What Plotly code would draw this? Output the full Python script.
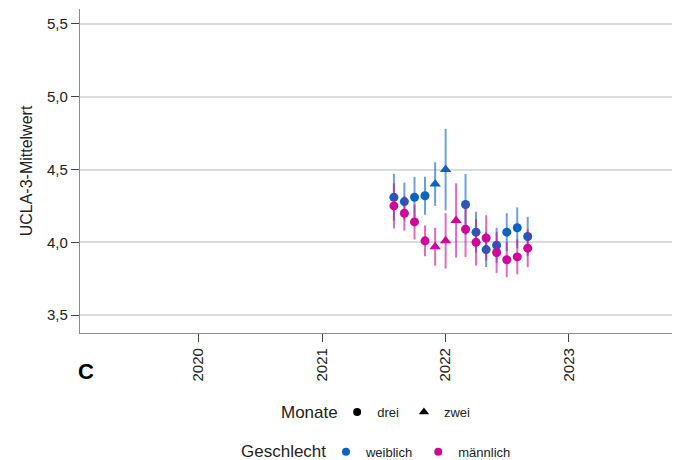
import plotly.graph_objects as go

# ---- data ----
months_w = ["2021-08-01", "2021-09-01", "2021-10-01", "2021-11-01", "2021-12-01", "2022-01-01",
            "2022-03-01", "2022-04-01", "2022-05-01", "2022-06-01", "2022-07-01", "2022-08-01", "2022-09-01"]
monate_w = ["drei", "drei", "drei", "drei", "zwei", "zwei",
            "drei", "drei", "drei", "drei", "drei", "drei", "drei"]
mean_w = [4.31, 4.28, 4.31, 4.32, 4.40, 4.50, 4.26, 4.07, 3.95, 3.98, 4.07, 4.10, 4.04]
ci_w = [0.16, 0.13, 0.14, 0.13, 0.15, 0.28, 0.21, 0.14, 0.12, 0.12, 0.13, 0.14, 0.135]

months_m = ["2021-08-01", "2021-09-01", "2021-10-01", "2021-11-01", "2021-12-01", "2022-01-01",
            "2022-02-01", "2022-03-01", "2022-04-01", "2022-05-01", "2022-06-01", "2022-07-01",
            "2022-08-01", "2022-09-01"]
monate_m = ["drei", "drei", "drei", "drei", "zwei", "zwei", "zwei",
            "drei", "drei", "drei", "drei", "drei", "drei", "drei"]
mean_m = [4.25, 4.20, 4.14, 4.01, 3.97, 4.01, 4.15, 4.09, 4.00, 4.03, 3.93, 3.88, 3.90, 3.96]
ci_m = [0.155, 0.12, 0.12, 0.105, 0.13, 0.19, 0.255, 0.19, 0.16, 0.156, 0.14, 0.12, 0.12, 0.13]

year_ticks = ["2020-01-01", "2021-01-01", "2022-01-01", "2023-01-01"]
y_ticks = [3.5, 4.0, 4.5, 5.0, 5.5]

BLUE = "#0A64C2"
BLUE_BAR = "rgba(10,100,194,0.6)"
PINK = "#D1079B"
PINK_BAR = "rgba(209,7,155,0.6)"
SYMBOLS = {"drei": "circle", "zwei": "triangle-up"}

fig = go.Figure()

def add_group(months, monate, means, cis, color, barcolor):
    for m in ["drei", "zwei"]:
        idx = [i for i, v in enumerate(monate) if v == m]
        fig.add_trace(go.Scatter(
            x=[months[i] for i in idx],
            y=[means[i] for i in idx],
            mode="markers",
            marker=dict(symbol=SYMBOLS[m], size=9 if m == "drei" else 10, color=color),
            error_y=dict(type="data", array=[cis[i] for i in idx], color=barcolor,
                         thickness=2, width=0),
            showlegend=False, hoverinfo="skip",
        ))

add_group(months_w, monate_w, mean_w, ci_w, BLUE, BLUE_BAR)
add_group(months_m, monate_m, mean_m, ci_m, PINK, PINK_BAR)

# legend dummies
fig.add_trace(go.Scatter(x=[None], y=[None], mode="markers", name="drei",
                         marker=dict(symbol="circle", size=8, color="black"), legend="legend"))
fig.add_trace(go.Scatter(x=[None], y=[None], mode="markers", name="zwei",
                         marker=dict(symbol="triangle-up", size=9, color="black"), legend="legend"))
fig.add_trace(go.Scatter(x=[None], y=[None], mode="markers", name="weiblich",
                         marker=dict(symbol="circle", size=8, color=BLUE), legend="legend2"))
fig.add_trace(go.Scatter(x=[None], y=[None], mode="markers", name="männlich",
                         marker=dict(symbol="circle", size=8, color=PINK), legend="legend2"))

FONT = "Liberation Sans, Arial, sans-serif"

fig.update_layout(
    width=677, height=460,
    margin=dict(l=80, r=5, t=9, b=127, autoexpand=False),
    plot_bgcolor="white", paper_bgcolor="white",
    separators=", ",
    font=dict(family=FONT, color="#222222"),
    xaxis=dict(
        type="date", automargin=False,
        range=["2019-01-15", "2023-11-02"],
        tickvals=year_ticks, tickformat="%Y", tickangle=-90,
        tickfont=dict(size=15, color="#222222"),
        showgrid=False, zeroline=False,
        showline=True, linecolor="#8C8C8C", linewidth=1.3,
        ticks="outside", ticklen=8, tickcolor="#444444", tickwidth=1.3,
    ),
    yaxis=dict(
        range=[3.377, 5.603], automargin=False,
        tickvals=y_ticks, tickformat=".1f",
        tickfont=dict(size=15, color="#222222"),
        showgrid=True, gridcolor="#DCDCDC", gridwidth=1.5,
        zeroline=False,
        showline=True, linecolor="#8C8C8C", linewidth=1.3,
        ticks="outside", ticklen=8, tickcolor="#444444", tickwidth=1.3,
        title=dict(text="UCLA-3-Mittelwert", font=dict(size=16, color="#222222"), standoff=10),
    ),
    legend=dict(
        orientation="h", xref="container", yref="container",
        x=0.498, xanchor="left", y=0.104, yanchor="middle",
        font=dict(size=13), bgcolor="rgba(0,0,0,0)",
    ),
    legend2=dict(
        orientation="h", xref="container", yref="container",
        x=0.4815, xanchor="left", y=0.018, yanchor="middle",
        font=dict(size=13), bgcolor="rgba(0,0,0,0)",
    ),
    annotations=[
        dict(text="<b>C</b>", xref="paper", yref="paper", x=-0.006, y=-0.12,
             xanchor="left", yanchor="middle", showarrow=False,
             font=dict(size=22, family="Liberation Sans, Arial", color="black")),
        dict(text="Monate", xref="paper", yref="paper", x=0.439, y=-0.244,
             xanchor="right", yanchor="middle", showarrow=False,
             font=dict(size=17, color="#222222")),
        dict(text="Geschlecht", xref="paper", yref="paper", x=0.419, y=-0.367,
             xanchor="right", yanchor="middle", showarrow=False,
             font=dict(size=17, color="#222222")),
    ],
)

fig.write_html("out.html")
